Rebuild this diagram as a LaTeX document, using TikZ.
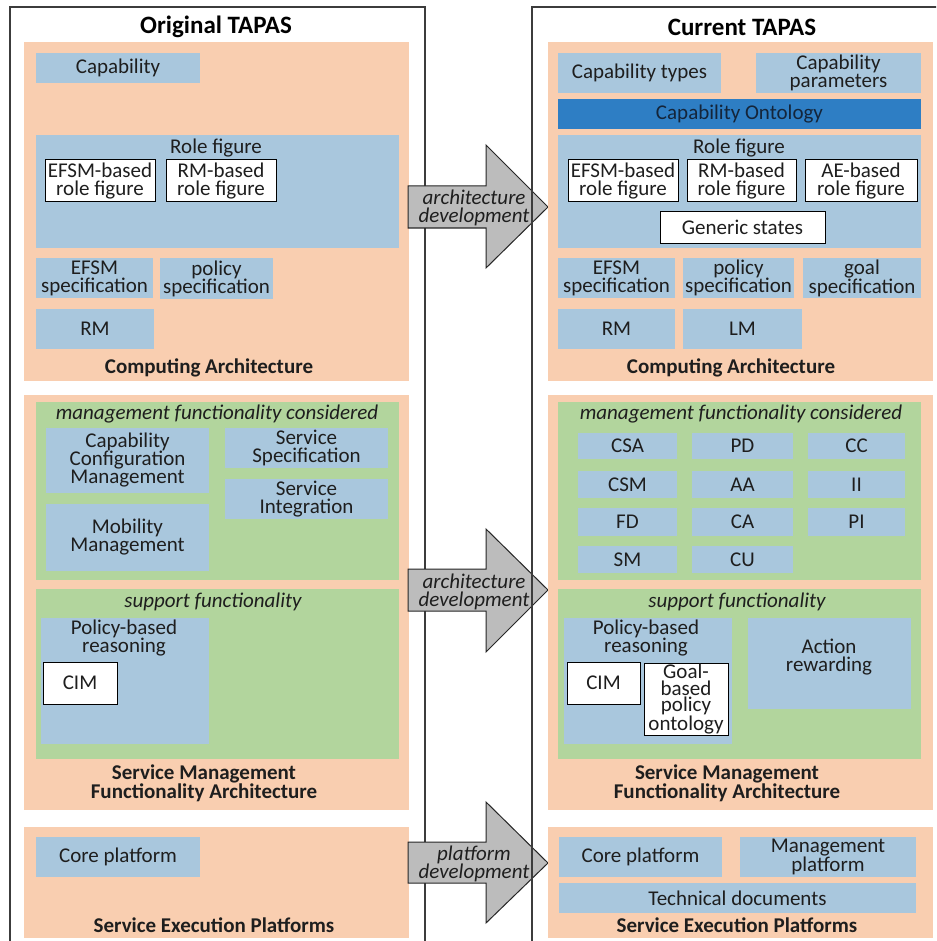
\documentclass[tikz,border=0pt]{standalone}
\usepackage{fontspec}
\setmainfont{Carlito}
\definecolor{peach}{HTML}{F9CEB0}
\definecolor{skyblue}{HTML}{A9C7DD}
\definecolor{leaf}{HTML}{B2D59D}
\definecolor{ontblue}{HTML}{2E7EC4}
\definecolor{arrowgray}{HTML}{BCBCBC}
\definecolor{ink}{HTML}{1E1E1E}
\definecolor{ontink}{HTML}{14253A}
\definecolor{framegray}{HTML}{3C3C3C}

\newcommand\fsnormal{\fontsize{21}{18}\selectfont}
\newcommand\fstitle{\fontsize{25}{28}\selectfont\bfseries}

% \bx{name}{style}{x1}{y1}{x2}{y2}{text}: rectangle given by its corners (pixel-like units)
\newcommand\bx[7]{%
  \pgfmathsetmacro\bxcx{(#3+#5)/2}%
  \pgfmathsetmacro\bxcy{(#4+#6)/2}%
  \pgfmathsetmacro\bxw{#5-#3}%
  \pgfmathsetmacro\bxh{#6-#4}%
  \node[box,#2,minimum width=\bxw pt,minimum height=\bxh pt] (#1) at (\bxcx,\bxcy) {#7};}

\tikzset{
  box/.style={inner sep=0pt, outer sep=0pt, align=center, font=\fsnormal, text=ink},
  peachbox/.style={fill=peach},
  bluebox/.style={fill=skyblue},
  greenbox/.style={fill=leaf},
  ontbox/.style={fill=ontblue, text=ontink},
  whitebox/.style={fill=white, draw=black, line width=1pt},
  caption/.style={inner sep=0pt, align=center, font=\fsnormal\bfseries, text=ink},
  heading/.style={inner sep=0pt, align=center, font=\fsnormal\itshape, text=ink},
  plain/.style={inner sep=0pt, align=center, font=\fsnormal, text=ink},
  title/.style={inner sep=0pt, font=\fstitle, text=black},
  devarrow/.style={fill=arrowgray, draw=black!85, line width=1pt, line join=miter},
  frame/.style={draw=framegray, line width=1.4pt},
}

\begin{document}
\begin{tikzpicture}[x=1pt, y=-1pt]
\useasboundingbox (0,0) rectangle (936,941);
\clip (0,0) rectangle (936,941);
\fill[white] (0,0) rectangle (936,941);

% ---------- left column: Original TAPAS ----------
\draw[frame] (10,7) rectangle (425,960);
\node[title] (ttlL) at (216,27) {Original TAPAS};

% Computing Architecture
\bx{caL}{peachbox}{24}{42}{409}{381}{}
\bx{capL}{bluebox}{36}{53}{200}{83}{Capability}
\bx{roleL}{bluebox}{36}{135}{399}{248}{}
\node[plain] (roleLt) at (216,148) {Role figure};
\bx{efsmrfL}{whitebox}{45}{160}{155}{202}{EFSM-based\\role figure}
\bx{rmrfL}{whitebox}{166}{160}{276}{202}{RM-based\\role figure}
\bx{efsmspL}{bluebox}{36}{258}{153}{298}{EFSM\\specification}
\bx{polspL}{bluebox}{160}{258}{273}{299}{policy\\specification}
\bx{rmL}{bluebox}{36}{309}{154}{349}{RM}
\node[caption] (caLt) at (209,368) {Computing Architecture};

% Service Management Functionality Architecture
\bx{smL}{peachbox}{24}{395}{409}{810}{}
\bx{mgmtL}{greenbox}{36}{402}{399}{580}{}
\node[heading] (mgmtLt) at (217,414) {management functionality considered};
\bx{ccmL}{bluebox}{46}{428}{209}{493}{Capability\\Configuration\\Management}
\bx{mobL}{bluebox}{46}{504}{209}{571}{Mobility\\Management}
\bx{sspecL}{bluebox}{225}{428}{388}{468}{Service\\Specification}
\bx{sintL}{bluebox}{225}{479}{388}{519}{Service\\Integration}
\bx{suppL}{greenbox}{36}{589}{399}{759}{}
\node[heading] (suppLt) at (213,602) {support functionality};
\bx{pbrL}{bluebox}{41}{618}{209}{744}{}
\node[plain] (pbrLt) at (124,638.5) {Policy-based\\reasoning};
\bx{cimL}{whitebox}{43}{662}{117}{704}{CIM}
\node[caption] (smLt) at (204,783.5) {Service Management\\Functionality Architecture};

% Service Execution Platforms
\bx{sepL}{peachbox}{24}{827}{409}{938}{}
\bx{coreL}{bluebox}{36}{837}{200}{877}{Core platform}
\node[caption] (sepLt) at (214,925) {Service Execution Platforms};

% ---------- development arrows ----------
\draw[devarrow] (408,186) -- (486,186) -- (486,145) -- (548,207) -- (486,268) -- (486,228) -- (408,228) -- cycle;
\node[heading] (dev1) at (474,207.5) {architecture\\development};
\draw[devarrow] (408,569) -- (486,569) -- (486,529) -- (548,590) -- (486,652) -- (486,611) -- (408,611) -- cycle;
\node[heading] (dev2) at (474,592) {architecture\\development};
\draw[devarrow] (408,842) -- (486,842) -- (486,802) -- (548,863) -- (486,923) -- (486,883) -- (408,883) -- cycle;
\node[heading] (dev3) at (474,864) {platform\\development};

% ---------- right column: Current TAPAS ----------
\draw[frame] (532,7) rectangle (960,960);
\node[title] (ttlR) at (742,27) {Current TAPAS};

% Computing Architecture
\bx{caR}{peachbox}{548}{42}{933}{381}{}
\bx{captR}{bluebox}{558}{53}{721}{93}{Capability types}
\bx{cappR}{bluebox}{756}{53}{921}{93}{Capability\\parameters}
\bx{ontR}{ontbox}{558}{99}{921}{129}{Capability Ontology}
\bx{roleR}{bluebox}{558}{135}{921}{248}{}
\node[plain] (roleRt) at (739,148) {Role figure};
\bx{efsmrfR}{whitebox}{568}{160}{678}{202}{EFSM-based\\role figure}
\bx{rmrfR}{whitebox}{687}{160}{796}{202}{RM-based\\role figure}
\bx{aerfR}{whitebox}{805}{160}{917}{202}{AE-based\\role figure}
\bx{genR}{whitebox}{660}{212}{825}{243}{Generic states}
\bx{efsmspR}{bluebox}{558}{258}{675}{298}{EFSM\\specification}
\bx{polspR}{bluebox}{683}{258}{794}{298}{policy\\specification}
\bx{goalspR}{bluebox}{803}{258}{921}{298}{goal\\specification}
\bx{rmR}{bluebox}{558}{309}{675}{349}{RM}
\bx{lmR}{bluebox}{683}{309}{802}{349}{LM}
\node[caption] (caRt) at (731,368) {Computing Architecture};

% Service Management Functionality Architecture
\bx{smR}{peachbox}{548}{395}{933}{810}{}
\bx{mgmtR}{greenbox}{558}{402}{921}{580}{}
\node[heading] (mgmtRt) at (741,414) {management functionality considered};
\bx{csa}{bluebox}{578}{433}{677}{459}{CSA}
\bx{pd}{bluebox}{692}{433}{793}{459}{PD}
\bx{cc}{bluebox}{808}{433}{905}{459}{CC}
\bx{csm}{bluebox}{578}{471}{677}{498}{CSM}
\bx{aa}{bluebox}{692}{471}{793}{498}{AA}
\bx{ii}{bluebox}{808}{471}{905}{498}{II}
\bx{fd}{bluebox}{578}{508}{677}{536}{FD}
\bx{ca}{bluebox}{692}{508}{793}{536}{CA}
\bx{pi}{bluebox}{808}{508}{905}{536}{PI}
\bx{sm}{bluebox}{578}{546}{677}{573}{SM}
\bx{cu}{bluebox}{692}{546}{793}{573}{CU}
\bx{suppR}{greenbox}{558}{589}{921}{759}{}
\node[heading] (suppRt) at (737,602) {support functionality};
\bx{pbrR}{bluebox}{564}{618}{732}{744}{}
\node[plain] (pbrRt) at (646,638.5) {Policy-based\\reasoning};
\bx{cimR}{whitebox}{567}{662}{640}{704}{CIM}
\bx{gbpoR}{whitebox,font=\fontsize{21}{16.7}\selectfont}{644}{663}{728}{735}{Goal-\\based\\policy\\ontology}
\bx{arwR}{bluebox}{748}{618}{911}{709}{}
\node[plain] (arwRt) at (829,657) {Action\\rewarding};
\node[caption] (smRt) at (727,783.5) {Service Management\\Functionality Architecture};

% Service Execution Platforms
\bx{sepR}{peachbox}{548}{827}{933}{938}{}
\bx{coreR}{bluebox}{559}{837}{722}{877}{Core platform}
\bx{mgpR}{bluebox}{740}{837}{916}{877}{Management\\platform}
\bx{techR}{bluebox}{559}{883}{916}{913}{Technical documents}
\node[caption] (sepRt) at (737,925) {Service Execution Platforms};
\end{tikzpicture}
\end{document}
